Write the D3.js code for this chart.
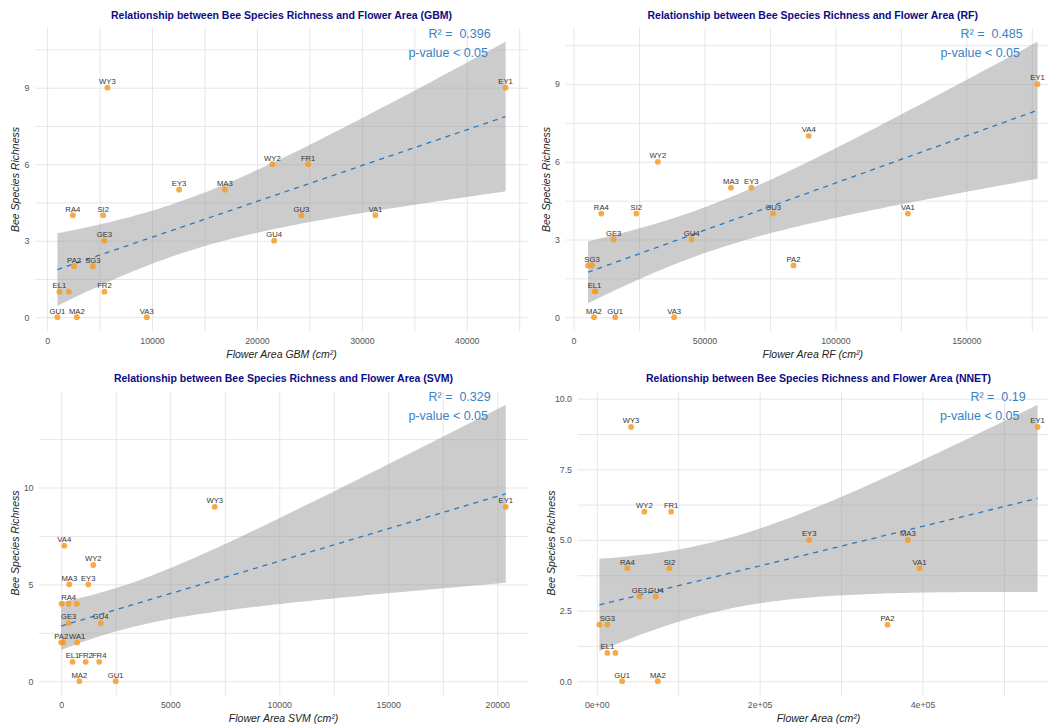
<!DOCTYPE html>
<html>
<head>
<meta charset="utf-8">
<script src="https://cdn.jsdelivr.net/npm/d3@7"></script>
<style>
  body { margin: 0; background: #fff; }
  svg { display: block; font-family: "Liberation Sans", Arial, sans-serif; }
</style>
</head>
<body>
<script>

// ---- data ----
var gbmSites    = ["WY3","EY1","WY2","FR1","EY3","MA3","RA4","SI2","GU3","VA1","GE3","GU4","PA2","SG3","EL1","","FR2","GU1","MA2","VA3"];
var gbmArea     = [5750, 43700, 21470, 24880, 12580, 16940, 2450, 5340, 24240, 31290, 5460, 21640, 2570, 4360, 1170, 2070, 5460, 980, 2830, 9500];
var gbmRichness = [9, 9, 6, 6, 5, 5, 4, 4, 4, 4, 3, 3, 2, 2, 1, 1, 1, 0, 0, 0];

var rfSites     = ["EY1","VA4","WY2","MA3","EY3","RA4","SI2","GU3","VA1","GE3","GU4","","SG3","PA2","EL1","","MA2","GU1","VA3"];
var rfArea      = [177200, 89800, 32200, 60100, 67900, 10600, 23950, 76200, 127700, 15300, 45100, 5500, 7030, 84000, 8000, 8400, 7800, 15900, 38400];
var rfRichness  = [9, 7, 6, 5, 5, 4, 4, 4, 4, 3, 3, 2, 2, 2, 1, 1, 0, 0, 0];

var svmSites    = ["VA4","WY3","EY1","WY2","MA3","EY3","","RA4","","GE3","GU4","PA2","","WA1","EL1","FR2","FR4","MA2","GU1"];
var svmArea     = [140, 7040, 20390, 1470, 370, 1240, 20, 340, 710, 340, 1810, 0, 90, 730, 520, 1120, 1740, 830, 2500];
var svmRichness = [7, 9, 9, 6, 5, 5, 4, 4, 4, 3, 3, 2, 2, 2, 1, 1, 1, 0, 0];

var nnetSites    = ["WY3","WY2","FR1","RA4","SI2","GE3","GU4","","SG3","EL1","","GU1","MA2","EY3","MA3","VA1","PA2","EY1"];
var nnetArea     = [42100, 58500, 91300, 37600, 89200, 52300, 72500, 3200, 13000, 13000, 22900, 31100, 74900, 260800, 382000, 396300, 357000, 541300];
var nnetRichness = [9, 6, 6, 4, 4, 3, 3, 2, 2, 1, 1, 0, 0, 5, 5, 4, 2, 9];

// ticks and labels
var gbmXTicks = [0, 10000, 20000, 30000, 40000];
var gbmXTickLabels = ["0", "10000", "20000", "30000", "40000"];
var gbmXMinor = [5000, 15000, 25000, 35000, 45000];
var rfXTicks = [0, 50000, 100000, 150000];
var rfXTickLabels = ["0", "50000", "100000", "150000"];
var rfXMinor = [25000, 75000, 125000, 175000];
var svmXTicks = [0, 5000, 10000, 15000, 20000];
var svmXTickLabels = ["0", "5000", "10000", "15000", "20000"];
var svmXMinor = [2500, 7500, 12500, 17500];
var nnetXTicks = [0, 200000, 400000];
var nnetXTickLabels = ["0e+00", "2e+05", "4e+05"];
var nnetXMinor = [100000, 300000, 500000];

var topYTicks = [0, 3, 6, 9];
var topYTickLabels = ["0", "3", "6", "9"];
var topYMinor = [1.5, 4.5, 7.5, 10.5];
var svmYTicks = [0, 5, 10];
var svmYTickLabels = ["0", "5", "10"];
var svmYMinor = [2.5, 7.5, 12.5];
var nnetYTicks = [0, 2.5, 5, 7.5, 10];
var nnetYTickLabels = ["0.0", "2.5", "5.0", "7.5", "10.0"];
var nnetYMinor = [1.25, 3.75, 6.25, 8.75];

var models = ["GBM", "RF", "SVM", "NNET"];
var r2Values = ["0.396", "0.485", "0.329", "0.19"];
var xTitles = ["Flower Area GBM (cm²)", "Flower Area RF (cm²)", "Flower Area SVM (cm²)", "Flower Area (cm²)"];

var width = 1048, height = 727;

var svg = d3.select("body").append("svg")
    .attr("width", width)
    .attr("height", height);

// t quantile (0.975) via Cornish-Fisher expansion
function tQuantile(df) {
	var z = 1.959964;
	var z3 = z*z*z, z5 = z3*z*z, z7 = z5*z*z;
	return z + (z3 + z)/(4*df) + (5*z5 + 16*z3 + 3*z)/(96*df*df)
		+ (3*z7 + 19*z5 + 17*z3 - 15*z)/(384*df*df*df);
}

function drawPanel(p, k) {

	var n = p.area.length;
	var mx = d3.mean(p.area), my = d3.mean(p.rich);
	var sxx = d3.sum(p.area, function(d) { return (d - mx) * (d - mx); });
	var sxy = d3.sum(p.area, function(d, i) { return (d - mx) * (p.rich[i] - my); });
	var slope = sxy / sxx, icpt = my - slope * mx;
	var rss = d3.sum(p.area, function(d, i) { var e = p.rich[i] - (icpt + slope * d); return e * e; });
	var s = Math.sqrt(rss / (n - 2));
	var t = tQuantile(n - 2);
	var xExt = d3.extent(p.area);

	var fit = d3.range(80).map(function(i) {
		var xv = xExt[0] + (xExt[1] - xExt[0]) * i / 79;
		var f = icpt + slope * xv;
		var se = s * Math.sqrt(1 / n + (xv - mx) * (xv - mx) / sxx);
		return {x: xv, y: f, lo: f - t * se, hi: f + t * se};
	});

	var yMin = Math.min(d3.min(p.rich), d3.min(fit, function(d) { return d.lo; }));
	var yMax = Math.max(d3.max(p.rich), d3.max(fit, function(d) { return d.hi; }));
	var xr = xExt[1] - xExt[0], yr = yMax - yMin;

	var x = d3.scaleLinear()
		.domain([xExt[0] - 0.05 * xr, xExt[1] + 0.05 * xr])
		.range([p.left, p.right]);
	var y = d3.scaleLinear()
		.domain([yMin - 0.05 * yr, yMax + 0.05 * yr])
		.range([p.bottom, p.top]);

	var g = svg.append("g").attr("class", "panel-" + models[k]);

	// grid + tick labels via axes
	var inX = function(v) { return v >= x.domain()[0] && v <= x.domain()[1]; };
	var inY = function(v) { return v >= y.domain()[0] && v <= y.domain()[1]; };
	var xAll = p.xTicks.concat(p.xMinor).filter(inX);
	var yAll = p.yTicks.concat(p.yMinor).filter(inY);

	var xAxis = g.append("g")
		.attr("transform", "translate(0," + p.bottom + ")")
		.call(d3.axisBottom(x)
			.tickValues(xAll)
			.tickSize(-(p.bottom - p.top))
			.tickPadding(7)
			.tickFormat(function(d) { var i = p.xTicks.indexOf(d); return i < 0 ? "" : p.xTickLabels[i]; }));
	var yAxis = g.append("g")
		.attr("transform", "translate(" + p.left + ",0)")
		.call(d3.axisLeft(y)
			.tickValues(yAll)
			.tickSize(-(p.right - p.left))
			.tickPadding(5.5)
			.tickFormat(function(d) { var i = p.yTicks.indexOf(d); return i < 0 ? "" : p.yTickLabels[i]; }));

	[xAxis, yAxis].forEach(function(a) {
		a.select(".domain").remove();
		a.attr("font-family", null).attr("font-size", null);
		a.selectAll(".tick line").attr("stroke", "#e6e6e6").attr("stroke-width", 1);
		a.selectAll(".tick text").attr("fill", "#555").style("font-size", "8.8px");
	});

	// confidence band
	g.append("path")
		.datum(fit)
		.attr("fill", "#999")
		.attr("fill-opacity", 0.5)
		.attr("d", d3.area()
			.x(function(d) { return x(d.x); })
			.y0(function(d) { return y(d.lo); })
			.y1(function(d) { return y(d.hi); }));

	// fitted line
	g.append("path")
		.datum(fit)
		.attr("fill", "none")
		.attr("stroke", "#2b78be")
		.attr("stroke-width", 1.3)
		.attr("stroke-dasharray", "5,5")
		.attr("d", d3.line()
			.x(function(d) { return x(d.x); })
			.y(function(d) { return y(d.y); }));

	// points
	g.selectAll(".pt")
		.data(p.area)
		.enter().append("circle")
		.attr("class", "pt")
		.attr("cx", function(d) { return x(d); })
		.attr("cy", function(d, i) { return y(p.rich[i]); })
		.attr("r", 2.9)
		.attr("fill", "#f79b22")
		.attr("fill-opacity", 0.85);

	g.selectAll(".lbl")
		.data(p.area)
		.enter().append("text")
		.attr("class", "lbl")
		.attr("x", function(d) { return x(d); })
		.attr("y", function(d, i) { return y(p.rich[i]) - 3.6; })
		.attr("text-anchor", "middle")
		.style("font-size", "7.7px")
		.attr("fill", "#333")
		.text(function(d, i) { return p.sites[i]; });

	// title
	g.append("text")
		.attr("x", (p.left + p.right) / 2)
		.attr("y", p.top - 9)
		.attr("text-anchor", "middle")
		.style("font-size", "10.5px")
		.style("font-weight", "bold")
		.attr("fill", "#0b0b85")
		.text("Relationship between Bee Species Richness and Flower Area (" + models[k] + ")");

	// axis titles
	g.append("text")
		.attr("x", (p.left + p.right) / 2)
		.attr("y", p.bottom + 26.5)
		.attr("text-anchor", "middle")
		.style("font-size", "10.5px")
		.style("font-style", "italic")
		.attr("fill", "#222")
		.text(xTitles[k]);

	g.append("text")
		.attr("transform", "translate(" + p.ylabX + "," + (p.top + p.bottom) / 2 + ") rotate(-90)")
		.attr("text-anchor", "middle")
		.style("font-size", "10.5px")
		.style("font-style", "italic")
		.attr("fill", "#222")
		.text("Bee Species Richness");

	// R2 annotation
	g.append("text")
		.attr("x", p.right - p.r2Off)
		.attr("y", p.top + 9.8)
		.attr("text-anchor", "end")
		.style("font-size", "12.5px")
		.style("white-space", "pre")
		.attr("fill", "#3a82c4")
		.text("R² =  " + r2Values[k]);
	g.append("text")
		.attr("x", p.right - 40)
		.attr("y", p.top + 28.6)
		.attr("text-anchor", "end")
		.style("font-size", "12.5px")
		.attr("fill", "#3a82c4")
		.text("p-value < 0.05");
}

var panels = [
	{area: gbmArea, rich: gbmRichness, sites: gbmSites,
	 xTicks: gbmXTicks, xTickLabels: gbmXTickLabels, xMinor: gbmXMinor,
	 yTicks: topYTicks, yTickLabels: topYTickLabels, yMinor: topYMinor,
	 left: 35, right: 528, top: 28, bottom: 331, ylabX: 18.7, r2Off: 37.3},
	{area: rfArea, rich: rfRichness, sites: rfSites,
	 xTicks: rfXTicks, xTickLabels: rfXTickLabels, xMinor: rfXMinor,
	 yTicks: topYTicks, yTickLabels: topYTickLabels, yMinor: topYMinor,
	 left: 565.5, right: 1060, top: 28, bottom: 331, ylabX: 550.4, r2Off: 37.3},
	{area: svmArea, rich: svmRichness, sites: svmSites,
	 xTicks: svmXTicks, xTickLabels: svmXTickLabels, xMinor: svmXMinor,
	 yTicks: svmYTicks, yTickLabels: svmYTickLabels, yMinor: svmYMinor,
	 left: 39, right: 528, top: 391, bottom: 695, ylabX: 18.7, r2Off: 37.3},
	{area: nnetArea, rich: nnetRichness, sites: nnetSites,
	 xTicks: nnetXTicks, xTickLabels: nnetXTickLabels, xMinor: nnetXMinor,
	 yTicks: nnetYTicks, yTickLabels: nnetYTickLabels, yMinor: nnetYMinor,
	 left: 577.5, right: 1059.5, top: 391, bottom: 695, ylabX: 555.4, r2Off: 33.8}
];

panels.forEach(drawPanel);

</script>
</body>
</html>
